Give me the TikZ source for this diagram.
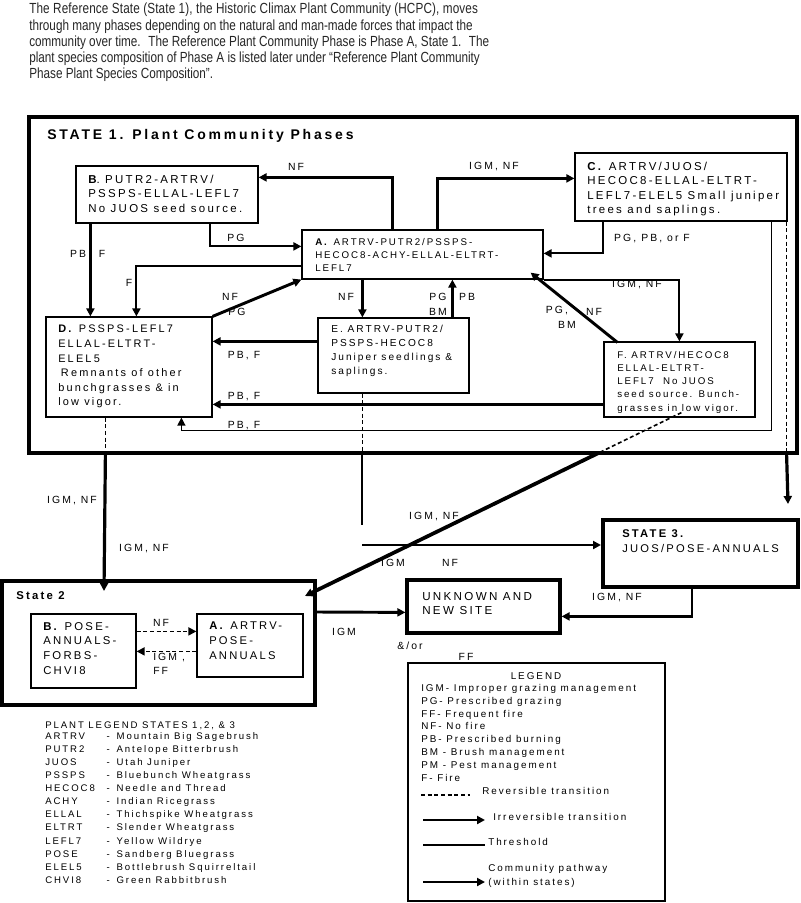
\documentclass[tikz,border=0pt]{standalone}
\usepackage{fontspec}
\setmainfont{Liberation Sans}
\newfontfamily\dgfont[LetterSpace=20]{Liberation Sans}
\newfontfamily\parfont[FakeStretch=0.80]{Liberation Sans}
\usetikzlibrary{arrows.meta,calc,fit}
\newcommand\fsz[2]{\dgfont\fontsize{#1}{#2}\selectfont}
\begin{document}
\begin{tikzpicture}[x=0.75pt,y=-0.75pt,
  box/.style={draw, line width=0.9pt, inner sep=0pt},
  sbox/.style={draw, line width=3pt, inner sep=0pt},
  ubox/.style={draw, line width=2.4pt, inner sep=0pt},
  tx/.style={anchor=north west, inner sep=0pt, align=left},
  lb/.style={inner sep=0pt, font=\fsz{7.8}{9}},
  headed/.style={-{Triangle[length=6pt,width=6pt]}},
  thk/.style={line width=2.2pt, headed},
  med/.style={line width=1.5pt, headed},
  thn/.style={line width=1pt, headed},
  rev/.style={line width=1.2pt, dash pattern=on 3pt off 2pt},
  revh/.style={rev, headed},
  thr/.style={line width=2.4pt, headed}]
\fill[white] (0,0) rectangle (800,903);
\useasboundingbox (0,0) rectangle (800,903);

% intro paragraph
\node[tx, font=\parfont\fontsize{11}{12.2}\selectfont, text=black!85] (intro) at (29,3)
 {{\addfontfeatures{LetterSpace=1}The Reference State (State 1), the Historic Climax Plant Community (HCPC), moves}\\
  through many phases depending on the natural and man-made forces that impact the\\
  community over time.~ The Reference Plant Community Phase is Phase A, State 1.~ The\\
  plant species composition of Phase A is listed later under “Reference Plant Community\\
  Phase Plant Species Composition”.};

% state boxes
\node[sbox, fit={(29,117) (797,453)}] (S1) {};
\node[sbox, fit={(2,581) (315,705)}] (S2) {};
\node[sbox, fit={(603,520) (798,587)}] (S3) {};
\node[ubox, fit={(407,580) (560,633)}] (U) {};
\node[box, fit={(408,663) (665,901)}] (L) {};

\node[anchor=west, inner sep=0pt, font=\fsz{10.5}{12}\bfseries] (S1t) at (47,136) {STATE 1. Plant Community Phases};
\node[anchor=west, inner sep=0pt, font=\fsz{8.5}{10}\bfseries] (S2t) at (16,596) {State 2};

% phase boxes
\node[box, fit={(76,166) (258,223)}] (B) {};
\node[box, fit={(575,153) (787,221)}] (C) {};
\node[box, fit={(302,230) (543,279)}] (A) {};
\node[box, fit={(46,317) (212,417)}] (D) {};
\node[box, fit={(318,318) (469,393)}] (E) {};
\node[box, fit={(604,342) (755,417)}] (F) {};
\node[box, fit={(31,614) (136,688)}] (B2) {};
\node[box, fit={(197,614) (303,677)}] (A2) {};

% box texts
\node[tx, font=\fsz{8.6}{10.7}] (Bt) at (88,175) {\textbf{B}. PUTR2-ARTRV/\\PSSPS-ELLAL-LEFL7\\No JUOS seed source.};
\node[tx, font=\fsz{8.6}{10.7}] (Ct) at (587,162) {\textbf{C.} ARTRV/JUOS/\\HECOC8-ELLAL-ELTRT-\\LEFL7-ELEL5 Small juniper\\trees and saplings.};
\node[tx, font=\fsz{7.3}{9.75}] (At) at (315,238) {\textbf{A.} ARTRV-PUTR2/PSSPS-\\HECOC8-ACHY-ELLAL-ELTRT-\\LEFL7};
\node[tx, font=\fsz{8.2}{10.95}] (Dt) at (58,325) {\textbf{D.} PSSPS-LEFL7\\ELLAL-ELTRT-\\ELEL5\\\hspace{2pt}Remnants of other\\bunchgrasses \& in\\low vigor.};
\node[tx, font=\fsz{7.6}{10.5}] (Et) at (331,325) {E. ARTRV-PUTR2/\\PSSPS-HECOC8\\Juniper seedlings \&\\saplings.};
\node[tx, font=\fsz{7.3}{9.9}] (Ft) at (617,351) {F. ARTRV/HECOC8\\ELLAL-ELTRT-\\LEFL7~~No JUOS\\seed source. Bunch-\\grasses in low vigor.};
\node[tx, font=\fsz{8.5}{11}] (B2t) at (43,622) {\textbf{B.} POSE-\\ANNUALS-\\FORBS-\\CHVI8};
\node[tx, font=\fsz{8.4}{11.25}] (A2t) at (209,622) {\textbf{A.} ARTRV-\\POSE-\\ANNUALS};
\node[tx, font=\fsz{8.7}{10.5}] (Ut) at (422,592) {UNKNOWN AND\\NEW SITE};
\node[tx, font=\fsz{8.4}{11.25}] (S3t) at (622,529) {\textbf{STATE 3.}\\JUOS/POSE-ANNUALS};

% labels
\node[lb] (l1) at (296,167) {NF};
\node[lb] (l2) at (494,167) {IGM, NF};
\node[lb] (l3) at (652,239) {PG, PB, or F};
\node[lb] (l4) at (236,238) {PG};
\node[lb] (l5a) at (78,254) {PB};
\node[lb] (l5b) at (102,254) {F};
\node[lb] (l6) at (129,283) {F};
\node[lb] (l7a) at (230,297) {NF};
\node[lb] (l7b) at (237,312) {PG};
\node[lb] (l8) at (346,297) {NF};
\node[lb] (l9a) at (438,297) {PG};
\node[lb] (l9b) at (467,297) {PB};
\node[lb] (l9c) at (438,312) {BM};
\node[lb] (l10) at (557,311) {PG,};
\node[lb] (l11) at (594,312) {NF};
\node[lb] (l12) at (567,325) {BM};
\node[lb] (l13) at (637,285) {IGM, NF};
\node[lb] (l14) at (244,356) {PB, F};
\node[lb] (l15) at (244,397) {PB, F};
\node[lb] (l16) at (244,426) {PB, F};
\node[lb] (l17) at (72,501) {IGM, NF};
\node[lb] (l18) at (144,549) {IGM, NF};
\node[lb] (l19) at (434,517) {IGM, NF};
\node[lb] (l20) at (393,563) {IGM};
\node[lb] (l21) at (450,563) {NF};
\node[lb] (l22) at (161,623) {NF};
\node[lb, anchor=west] (l23) at (153,658) {IGM ,};
\node[lb, anchor=west] (l24) at (153,671) {FF};
\node[lb] (l25) at (344,632) {IGM};
\node[lb] (l26) at (410,646) {\&/or};
\node[lb] (l27) at (466,657) {FF};
\node[lb] (l28) at (617,598) {IGM, NF};

% connectors inside state 1
\draw[thk] ($(A.north west)+(91,0)$) |- ($(B.north east)+(0,12)$);
\draw[thk] ($(A.north west)+(136,0)$) |- ($(C.north west)+(0,26)$);
\draw[med] ($(C.south west)+(29,0)$) |- ($(A.north east)+(0,24)$);
\draw[med] ($(B.south west)+(135,0)$) |- ($(A.north west)+(0,17)$);
\draw[med] ($(A.north west)+(0,37)$) -| ($(D.north west)+(91,0)$);
\draw[thk] ($(B.south west)+(15,0)$) -- ($(D.north west)+(45,0)$);
\draw[thk] (D.north east) -- (A.south west);
\draw[thk] ($(A.south west)+(61,0)$) -- ($(E.north west)+(45,0)$);
\draw[thk] ($(E.north west)+(135,0)$) -- ($(A.south west)+(151,0)$);
\draw[thk] ($(E.north west)+(0,24)$) -- ($(D.north east)+(0,25)$);
\draw[thk] ($(F.north west)+(0,63)$) -- ($(D.north east)+(0,88)$);
\draw[thn] ($(C.south east)+(-16,0)$) |- ($(D.south west)+(136,13)$) -- ($(D.south west)+(136,0)$);
\draw[med] (A.south east) -| ($(F.north west)+(76,0)$);
\draw[thk] ($(F.north west)+(14,1)$) -- ($(A.south east)+(-13,-7)$);

% D -> state 2
\coordinate (dS) at ($(D.south west)+(60,0)$);
\coordinate (dX) at (dS |- S1.south);
\draw[rev] (dS) -- (dX);
\draw[thr] (dX) -- ($(S2.north west)+(104,12)$);
% F -> state 2
\coordinate (fS) at ($(F.south west)+(78,-5)$);
\coordinate (fT) at ($(S2.north east)+(-12,17)$);
\coordinate (fX) at ($(fS)!0.22!(fT)$);
\draw[rev] (fS) -- (fX);
\draw[line width=2.8pt, headed] (fX) -- (fT);
% E -> state 3
\coordinate (eS) at ($(E.south west)+(45,0)$);
\coordinate (eX) at (eS |- S1.south);
\coordinate (eE) at ($(eX)+(0,70)$);
\coordinate (eH) at ($(eX)+(0,90)$);
\draw[rev] (eS) -- (eX);
\draw[line width=1.5pt] (eX) -- (eE);
\draw[med] (eH) -- (eH -| S3.west);
% C -> state 3
\coordinate (cS) at ($(C.south east)+(-1,0)$);
\coordinate (cX) at (cS |- S1.south);
\draw[rev] (cS) -- (cX);
\draw[thr] (cX) -- ($(S3.north east)+(-12,-14)$);
% state 2 -> unknown, state 3 -> unknown
\draw[thk] ($(S2.north east)+(0,33)$) -- ($(U.north west)+(0,34)$);
\draw[thk] ($(S3.south west)+(91,0)$) |- ($(U.north east)+(0,38)$);
% within state 2
\draw[revh] ($(B2.north east)+(0,18)$) -- ($(A2.north west)+(0,18)$);
\draw[revh] ($(A2.north west)+(0,38)$) -- ($(B2.north east)+(0,38)$);

% plant legend
\node[tx, font=\fsz{7.2}{9.8}] (PL) at (45,719) {\begin{tabular}{@{}p{46pt}@{}p{7.5pt}@{}l@{}}
\multicolumn{3}{@{}l@{}}{PLANT LEGEND STATES 1,2, \& 3}\\[-1.5pt]
ARTRV & - & Mountain Big Sagebrush\\
PUTR2 & - & Antelope Bitterbrush\\
JUOS & - & Utah Juniper\\
PSSPS & - & Bluebunch Wheatgrass\\
HECOC8 & - & Needle and Thread\\
ACHY & - & Indian Ricegrass\\
ELLAL & - & Thichspike Wheatgrass\\
ELTRT & - & Slender Wheatgrass\\
LEFL7 & - & Yellow Wildrye\\
POSE & - & Sandberg Bluegrass\\
ELEL5 & - & Bottlebrush Squirreltail\\
CHVI8 & - & Green Rabbitbrush
\end{tabular}};

% legend
\node[lb, font=\fsz{7.4}{9}] (LGt) at (536,676) {LEGEND};
\node[tx, font=\fsz{7.4}{9.64}] (LGx) at (421,684) {IGM- Improper grazing management\\PG- Prescribed grazing\\FF- Frequent fire\\NF- No fire\\PB- Prescribed burning\\BM - Brush management\\PM - Pest management\\F- Fire};
\coordinate (r1) at (421,795); \coordinate (r2) at (470,795);
\draw[rev] (r1) -- (r2);
\node[lb, anchor=west, font=\fsz{7.4}{9}] (rt) at (482,791) {Reversible transition};
\coordinate (i1) at (423,820); \coordinate (i2) at (485,820);
\draw[med] (i1) -- (i2);
\node[lb, anchor=west, font=\fsz{7.4}{9}] (it) at (493,817) {Irreversible transition};
\coordinate (t1) at (423,845); \coordinate (t2) at (485,845);
\draw[line width=2.2pt] (t1) -- (t2);
\node[lb, anchor=west, font=\fsz{7.4}{9}] (tt) at (488,842) {Threshold};
\node[tx, font=\fsz{7.4}{10.5}] (ct) at (488,864) {Community pathway\\(within states)};
\coordinate (c1) at (423,882); \coordinate (c2) at (485,882);
\draw[thk] (c1) -- (c2);
\end{tikzpicture}
\end{document}
